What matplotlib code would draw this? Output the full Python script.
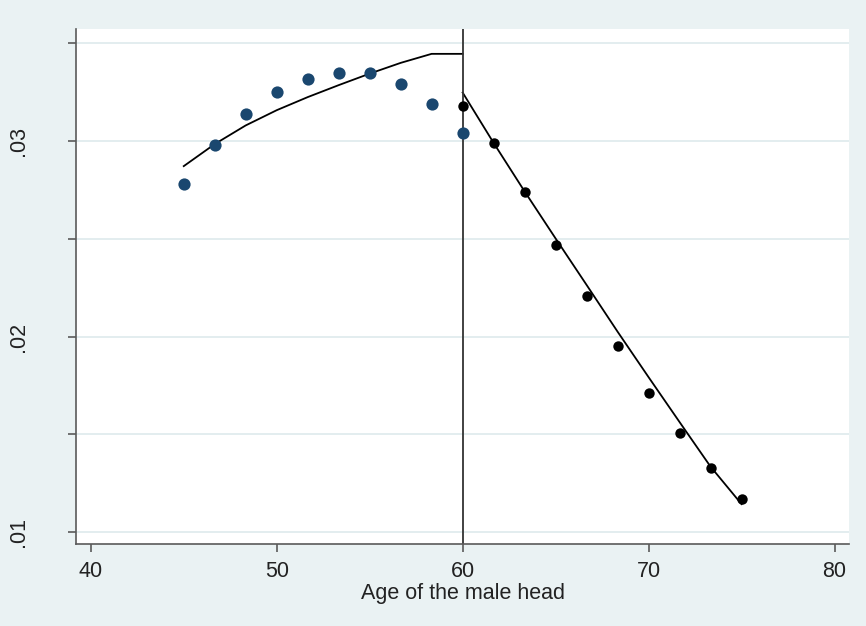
import matplotlib
matplotlib.use("Agg")
import matplotlib.pyplot as plt

plt.rcParams['font.family'] = ['Liberation Sans', 'DejaVu Sans']

# Binned scatter: ages below 60 (blue) and from 60 on (black)
age_left = [45, 46.67, 48.33, 50, 51.67, 53.33, 55, 56.67, 58.33, 60]
val_left = [0.0278, 0.0298, 0.0314, 0.0325, 0.0332, 0.0335, 0.0335, 0.0329, 0.0319, 0.0304]
fit_left = [0.02872, 0.02985, 0.03080, 0.03158, 0.03225, 0.03286, 0.03345, 0.03400, 0.03446, 0.03446]

age_right = [60, 61.67, 63.33, 65, 66.67, 68.33, 70, 71.67, 73.33, 75]
val_right = [0.0318, 0.0299, 0.0274, 0.0247, 0.0221, 0.0195, 0.0171, 0.0151, 0.0133, 0.0117]
fit_right = [0.03248, 0.02990, 0.02743, 0.02502, 0.02264, 0.02026, 0.01793, 0.01563, 0.01336, 0.01144]

cutoff = 60
xticks = [40, 50, 60, 70, 80]
yticks = [0.01, 0.015, 0.02, 0.025, 0.03, 0.035]
ylabels = ['.01', '', '.02', '', '.03', '']
xlabel = 'Age of the male head'

BG = '#EAF2F3'
GRID = '#E3EDEF'
AXC = '#5A5A5A'

fig = plt.figure(figsize=(8.66, 6.26), dpi=100, facecolor=BG)
ax = fig.add_axes([0.0883, 0.1310, 0.8921, 0.8219])
ax.set_facecolor('white')

ax.set_xlim(39.23, 80.78)
ax.set_ylim(0.009402, 0.035706)

for yv in yticks:
    ax.axhline(yv, color=GRID, lw=1.4, zorder=0)

ax.plot(age_left, fit_left, color='black', lw=1.3, zorder=2)
ax.plot(age_right, fit_right, color='black', lw=1.3, zorder=2)
ax.axvline(cutoff, color='#333333', lw=1.3, zorder=2)
ax.plot(age_left, val_left, 'o', color='#1A476F', ms=8.8, mec='none', zorder=3)
ax.plot(age_right, val_right, 'o', color='black', ms=7.5, mec='none', zorder=3)

for side in ['top', 'right']:
    ax.spines[side].set_visible(False)
for side in ['left', 'bottom']:
    ax.spines[side].set_color(AXC)
    ax.spines[side].set_linewidth(1.2)

ax.set_xticks(xticks)
ax.set_xticklabels([str(x) for x in xticks])
ax.set_yticks(yticks)
ax.set_yticklabels(ylabels, rotation=90, va='center', ha='center')
ax.tick_params(axis='both', colors=AXC, length=6, width=1.2, labelsize=15.5, labelcolor='#222222')
ax.tick_params(axis='y', pad=36)
ax.tick_params(axis='x', pad=6)
ax.set_xlabel(xlabel, fontsize=15.5, color='#222222', labelpad=1)

fig.savefig('out.png', dpi=100, facecolor=BG)
